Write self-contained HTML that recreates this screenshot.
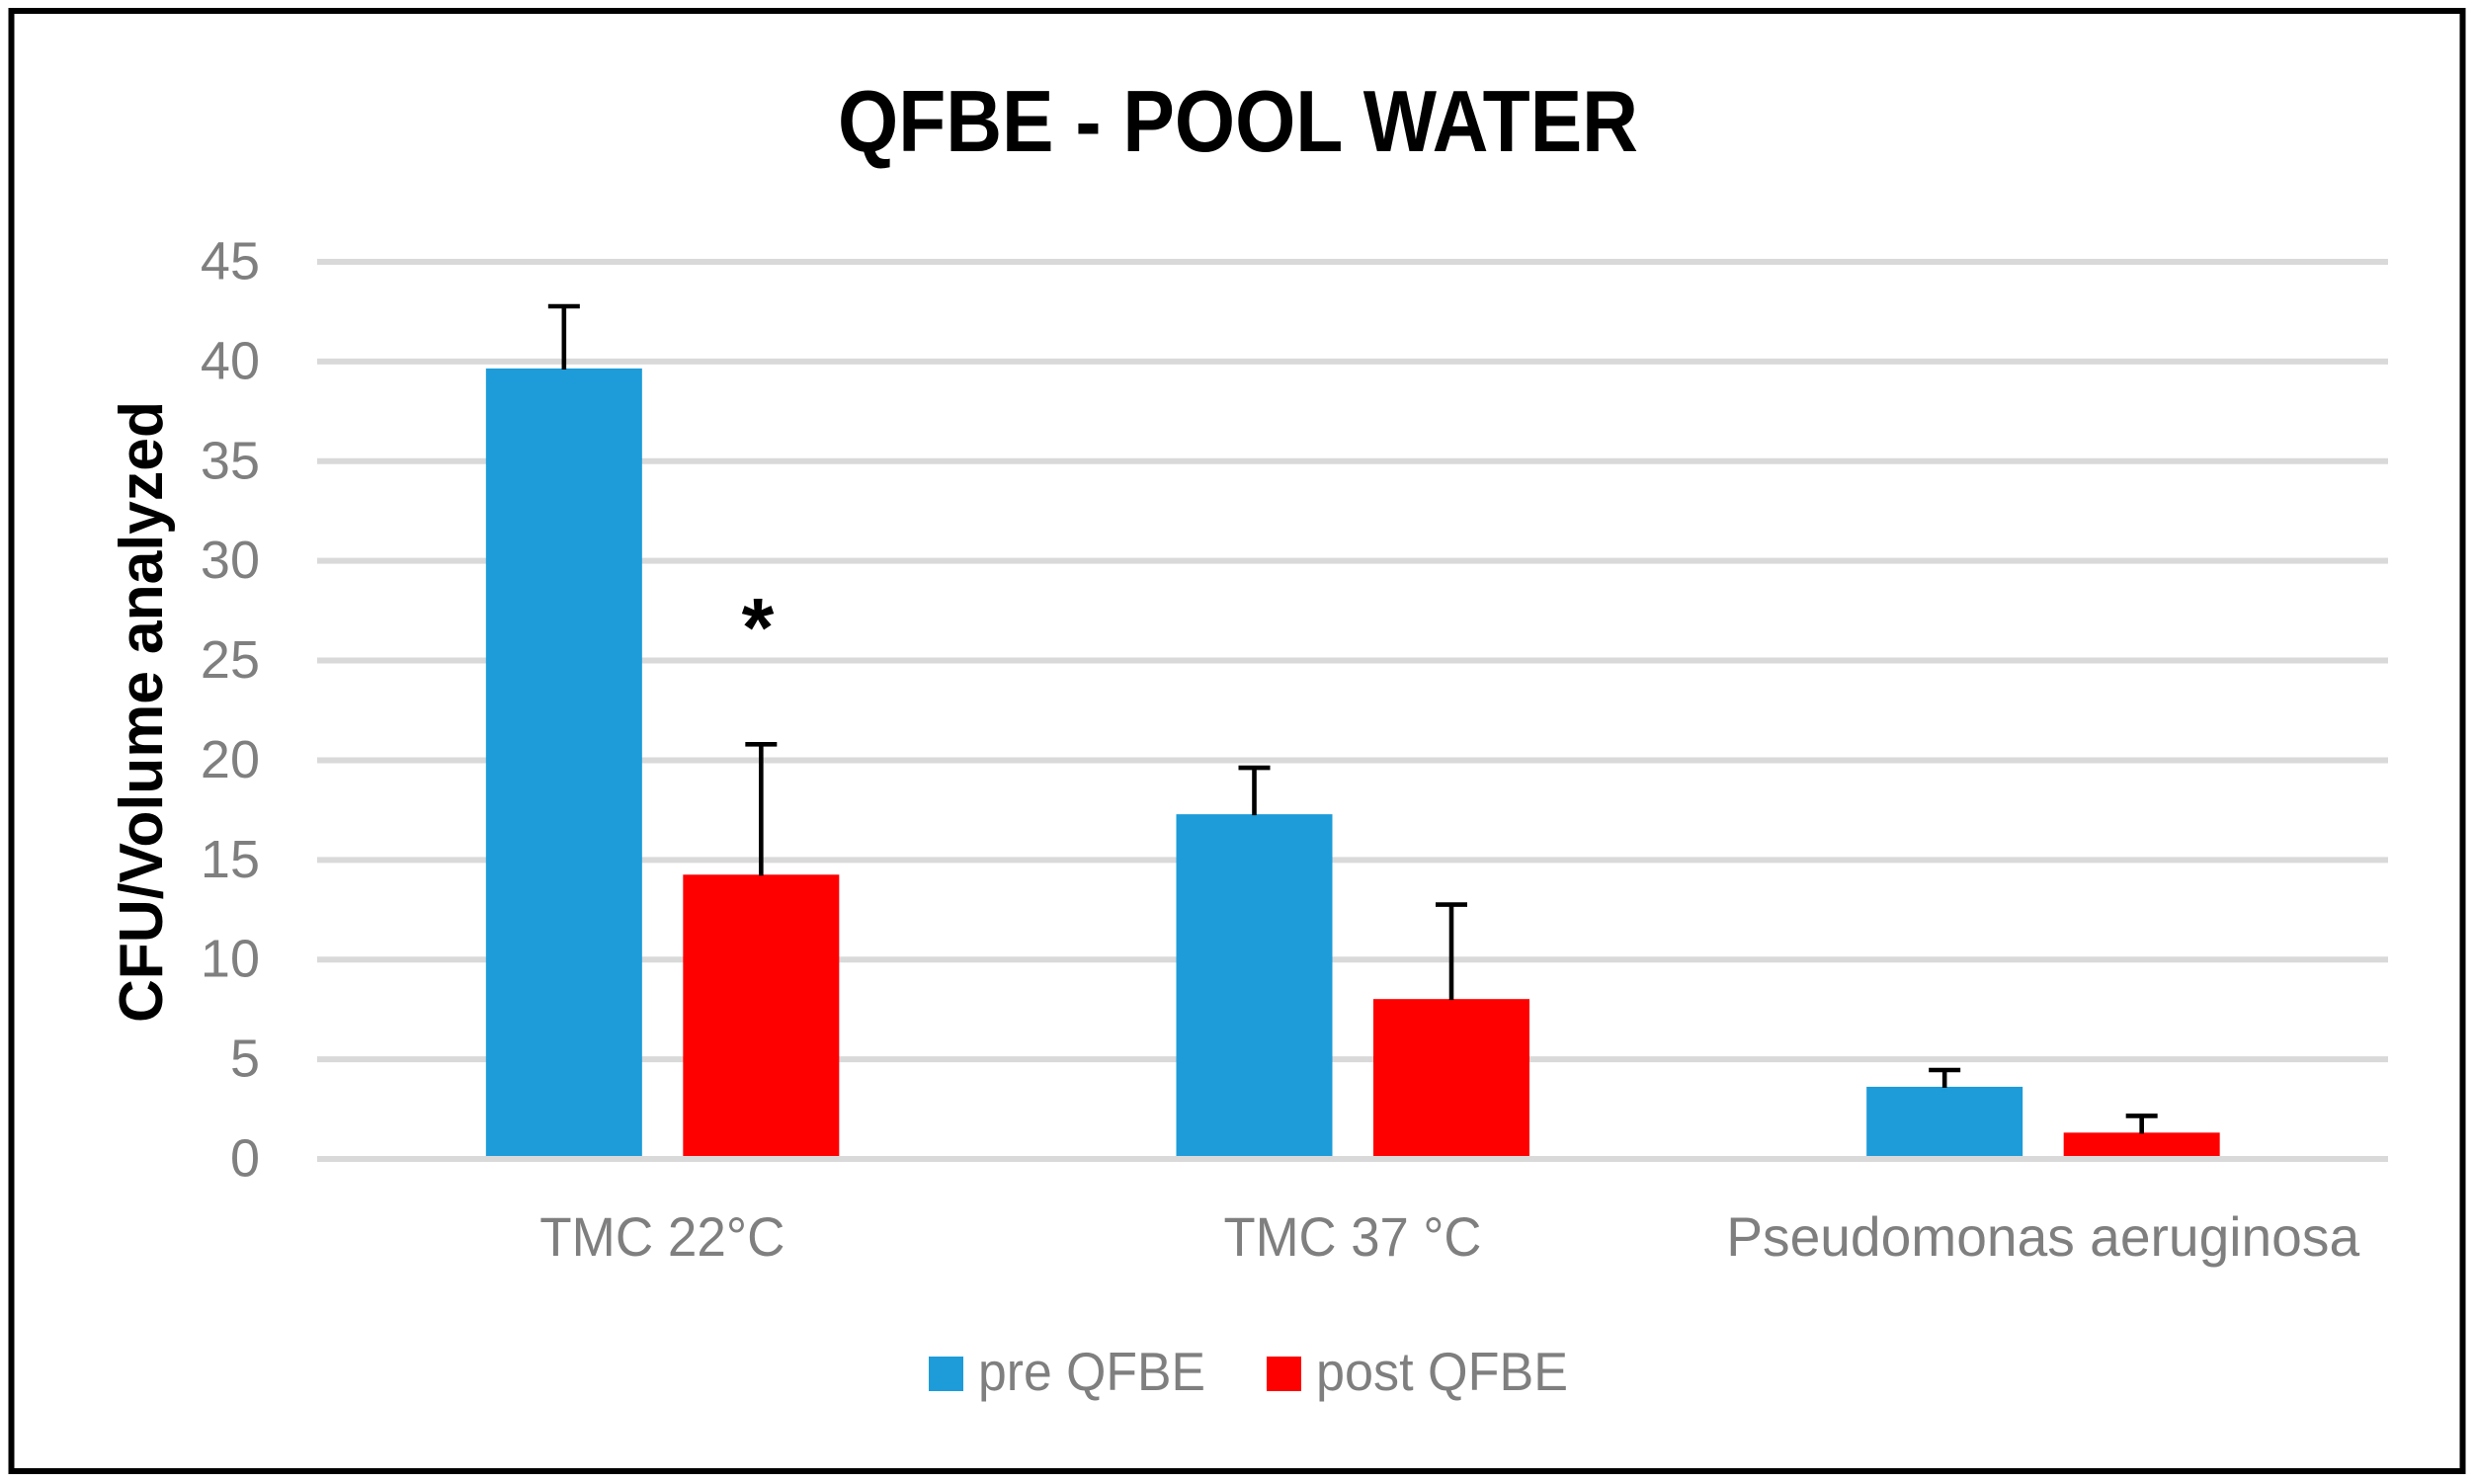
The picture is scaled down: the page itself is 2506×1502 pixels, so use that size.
<!DOCTYPE html>
<html lang="en">
<head>
<meta charset="utf-8">
<title>QFBE - Pool Water</title>
<style>
  html, body { margin: 0; padding: 0; background: #fff; }
  svg { display: block; }
  text { font-family: "Liberation Sans", sans-serif; }
</style>
</head>
<body>
<svg id="chart" xmlns="http://www.w3.org/2000/svg" width="2506" height="1502" viewBox="0 0 2506 1502">
  <rect x="0" y="0" width="2506" height="1502" fill="#ffffff"/>
  <rect x="11.5" y="11" width="2481" height="1478" fill="none" stroke="#000000" stroke-width="6"/>
  <text x="848" y="153" font-size="88" font-weight="700" fill="#000000" textLength="810" lengthAdjust="spacingAndGlyphs">QFBE - POOL WATER</text>
  <text transform="translate(164 1035) rotate(-90)" x="0" y="0" font-size="62" font-weight="700" fill="#000000" textLength="629" lengthAdjust="spacingAndGlyphs">CFU/Volume analyzed</text>
  <g id="grid"></g>
  <g id="ticks"></g>
  <g id="bars"></g>
  <g id="errors"></g>
  <g id="baseline"></g>
  <g id="cats"></g>
  <text x="767" y="664" font-size="84" font-weight="700" fill="#000000" text-anchor="middle">*</text>
  <g>
    <rect x="940" y="1373" width="35" height="35" fill="#1D9CD9"/>
    <text x="990" y="1407" font-size="55" fill="#7F7F7F" textLength="230" lengthAdjust="spacingAndGlyphs">pre QFBE</text>
    <rect x="1282" y="1373" width="35" height="35" fill="#FF0000"/>
    <text x="1332" y="1407" font-size="55" fill="#7F7F7F" textLength="255" lengthAdjust="spacingAndGlyphs">post QFBE</text>
  </g>
</svg>
<script>
const categories = ["TMC 22°C", "TMC 37 °C", "Pseudomonas aeruginosa"];
const preValues = [39.65, 17.29, 3.62];
const postValues = [14.26, 8.02, 1.32];
const preErrors = [3.12, 2.33, 0.84];
const postErrors = [6.54, 4.74, 0.84];
const yTickLabels = [0, 5, 10, 15, 20, 25, 30, 35, 40, 45];

const NS = "http://www.w3.org/2000/svg";
const plotLeft = 321, plotRight = 2417, yZero = 1173, yTop = 265, yMax = 45;
const barWidth = 158, preOffset = -99.5, postOffset = 100, capWidth = 32;
const labelCondense = [0.947, 0.94, 0.985];

function yScale(v) { return yZero - (v / yMax) * (yZero - yTop); }
function xCenter(i) { return plotLeft + (plotRight - plotLeft) * (i + 0.5) / categories.length; }

function make(tag, attrs, parent) {
  const el = document.createElementNS(NS, tag);
  for (const k in attrs) el.setAttribute(k, attrs[k]);
  parent.appendChild(el);
  return el;
}

const gridG = document.getElementById("grid");
const ticksG = document.getElementById("ticks");
const barsG = document.getElementById("bars");
const errG = document.getElementById("errors");
const baseG = document.getElementById("baseline");
const catsG = document.getElementById("cats");

yTickLabels.forEach(function (t) {
  const parent = t === 0 ? baseG : gridG;
  const line = make("line", { x1: plotLeft, x2: plotRight, y1: yScale(t), y2: yScale(t), stroke: "#D9D9D9", "stroke-width": 6 }, parent);
  
  
  const label = make("text", { x: 263, y: yScale(t) + 17.5, "font-size": 54, fill: "#7F7F7F", "text-anchor": "end" }, ticksG);
  label.textContent = String(t);
  
  
});

function drawSeries(values, errors, offset, color) {
  values.forEach(function (v, i) {
    const cx = xCenter(i) + offset;
    const top = yScale(v);
    const bar = make("rect", { x: cx - barWidth / 2, y: top, width: barWidth, height: yZero - top, fill: color }, barsG);
    
    
    const capY = yScale(v + errors[i]);
    const stem = make("line", { x1: cx, x2: cx, y1: top + 1, y2: capY, stroke: "#000000", "stroke-width": 4.6 }, errG);
    
    
    const cap = make("line", { x1: cx - capWidth / 2, x2: cx + capWidth / 2, y1: capY, y2: capY, stroke: "#000000", "stroke-width": 4.6 }, errG);
    
    
  });
}
drawSeries(preValues, preErrors, preOffset, "#1D9CD9");
drawSeries(postValues, postErrors, postOffset, "#FF0000");

categories.forEach(function (c, i) {
  const label = make("text", { x: xCenter(i), y: 1271, "font-size": 56, fill: "#7F7F7F", "text-anchor": "middle" }, catsG);
  label.textContent = c;
  
  
  const natural = label.getComputedTextLength();
  label.setAttribute("textLength", natural * labelCondense[i]);
  label.setAttribute("lengthAdjust", "spacingAndGlyphs");
});
</script>
</body>
</html>
